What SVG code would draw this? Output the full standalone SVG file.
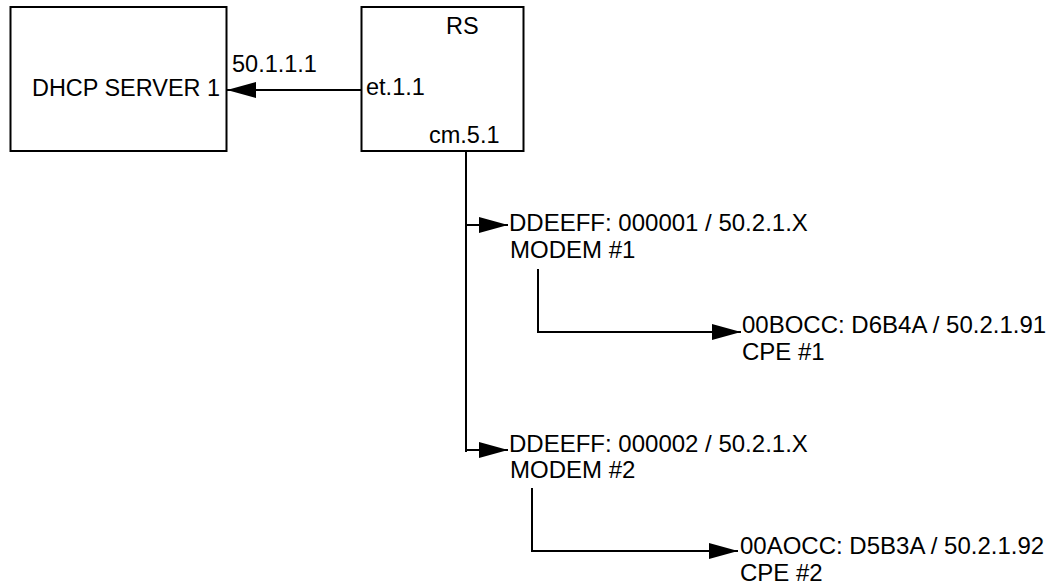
<svg xmlns="http://www.w3.org/2000/svg" width="1050" height="586" viewBox="0 0 1050 586">
<style>
  .box { fill: #ffffff; stroke: #000000; stroke-width: 2; }
  .lbl { font-family: "Liberation Sans", Arial, sans-serif; font-size: 23.5px; fill: #000000; }
  .lbl2 { font-family: "Liberation Sans", Arial, sans-serif; font-size: 24px; fill: #000000; }
  .con { fill: none; stroke: #000000; stroke-width: 2; }
</style>
<defs>
  <marker id="ah" viewBox="0 0 29 16" markerWidth="29" markerHeight="16" refX="29" refY="8" markerUnits="userSpaceOnUse" orient="auto">
    <path d="M0,0 L29,8 L0,16 Z" fill="#000000"/>
  </marker>
</defs>
<rect width="1050" height="586" fill="#ffffff"/>
<g id="dhcp-server">
  <rect class="box" x="10.5" y="7" width="216" height="144"/>
  <text class="lbl" x="32" y="96" textLength="188" lengthAdjust="spacingAndGlyphs">DHCP SERVER 1</text>
  <text class="lbl" x="232" y="72">50.1.1.1</text>
</g>
<g id="rs">
  <rect class="box" x="361.5" y="7" width="162" height="144"/>
  <text class="lbl" x="446" y="34">RS</text>
  <text class="lbl" x="366" y="95">et.1.1</text>
  <text class="lbl" x="429" y="143">cm.5.1</text>
</g>
<g id="modem1">
  <text class="lbl2" x="509" y="231">DDEEFF: 000001 / 50.2.1.X</text>
  <text class="lbl2" x="510" y="258">MODEM #1</text>
</g>
<g id="cpe1">
  <text class="lbl2" x="742" y="333">00BOCC: D6B4A / 50.2.1.91</text>
  <text class="lbl2" x="742" y="360">CPE #1</text>
</g>
<g id="modem2">
  <text class="lbl2" x="509" y="452">DDEEFF: 000002 / 50.2.1.X</text>
  <text class="lbl2" x="510" y="478">MODEM #2</text>
</g>
<g id="cpe2">
  <text class="lbl2" x="740" y="554">00AOCC: D5B3A / 50.2.1.92</text>
  <text class="lbl2" x="740" y="581">CPE #2</text>
</g>
<g id="connectors">
  <line class="con" x1="361" y1="90" x2="227" y2="90" marker-end="url(#ah)"/>
  <line class="con" x1="466" y1="152" x2="466" y2="452"/>
  <line class="con" x1="466" y1="225" x2="508" y2="225" marker-end="url(#ah)"/>
  <line class="con" x1="466" y1="450" x2="508" y2="450" marker-end="url(#ah)"/>
  <polyline class="con" points="538,269 538,332 741,332" marker-end="url(#ah)"/>
  <polyline class="con" points="532,488 532,551 738,551" marker-end="url(#ah)"/>
</g>
</svg>
